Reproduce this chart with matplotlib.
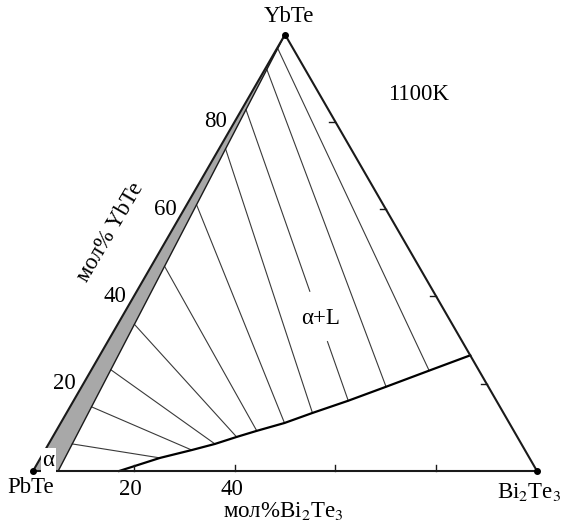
import numpy as np
import matplotlib
matplotlib.use("Agg")
import matplotlib.pyplot as plt

plt.rcParams['font.family'] = ['Liberation Serif', 'DejaVu Serif']
plt.rcParams['mathtext.fontset'] = 'stix'

# ---- data (mole fractions: Bi2Te3, YbTe) ----
vertex_names = ["PbTe", "Bi$_2$Te$_3$", "YbTe"]
tick_values = [20, 40, 60, 80]
bottom_labels = [20, 40]
left_labels = [20, 40, 60, 80]

# alpha solid-solution boundary (inner edge of the grey band)
alpha_bound_bi = [0.05, 0.0]
alpha_bound_yb = [0.0, 1.0]

# liquidus curve
liq_bi = [0.171, 0.237, 0.291, 0.330, 0.365, 0.398, 0.444, 0.488, 0.545, 0.604, 0.671, 0.735]
liq_yb = [0.000, 0.030, 0.048, 0.062, 0.078, 0.092, 0.110, 0.133, 0.161, 0.193, 0.230, 0.265]

# tie lines: start on alpha boundary (YbTe fraction), end on liquidus
tie_start_yb = [0.062, 0.147, 0.232, 0.336, 0.469, 0.610, 0.738, 0.828, 0.920, 0.968]
tie_end_bi = [0.237, 0.291, 0.330, 0.365, 0.398, 0.444, 0.488, 0.545, 0.604, 0.671]
tie_end_yb = [0.030, 0.048, 0.062, 0.078, 0.092, 0.110, 0.133, 0.161, 0.193, 0.230]
label_gap_line = 7
label_gap = (0.624, 0.797)


def tern(bi, yb):
    bi = np.asarray(bi, float)
    yb = np.asarray(yb, float)
    return bi + yb / 2.0, yb * np.sqrt(3) / 2.0


fig = plt.figure(figsize=(5.61, 5.25), dpi=100)
ax = fig.add_axes([0, 0, 1, 1])
ax.set_xlim(-33 / 504, 528 / 504)
ax.set_ylim(-54 / 504, 471 / 504)
ax.axis('off')

edge_col = '#1a1a1a'
fs = 16.5

# grey alpha band
def alpha_bi(yb):
    return np.interp(yb, alpha_bound_yb, alpha_bound_bi)

yy = np.linspace(0, 1, 50)
bx_in, by_in = tern(alpha_bi(yy), yy)
bx_out, by_out = tern(np.zeros_like(yy), yy)
ax.fill(np.concatenate([bx_out, bx_in[::-1]]), np.concatenate([by_out, by_in[::-1]]),
        color='#a8a8a8', zorder=1, lw=0)
ax.plot(bx_in, by_in, color=edge_col, lw=1.0, zorder=3)

# triangle
tx, ty = tern([0, 1, 0, 0], [0, 0, 1, 0])
ax.plot(tx, ty, color=edge_col, lw=1.5, zorder=4, solid_joinstyle='miter')
vx, vy = tern([0, 1, 0], [0, 0, 1])
ax.plot(vx, vy, 'o', color='black', ms=4, zorder=5)

# ticks
for t in tick_values:
    f = t / 100
    x0, y0 = tern(f, 0)
    ax.plot([x0, x0], [y0, y0 + 0.011], color=edge_col, lw=1.0, zorder=4)
    x1, y1 = tern(1 - f, f)
    ax.plot([x1, x1 - 0.012], [y1, y1], color=edge_col, lw=1.0, zorder=4)
for t in bottom_labels:
    x0, y0 = tern(t / 100, 0)
    ax.text(float(x0) - 0.006, float(y0) - 0.036, str(t), ha='center', va='center', fontsize=fs)
for t in left_labels:
    x2, y2 = tern(0, t / 100)
    ax.text(float(x2) - 0.038, float(y2), str(t), ha='center', va='center', fontsize=fs)

# liquidus
lx, ly = tern(liq_bi, liq_yb)
ax.plot(lx, ly, color='black', lw=1.6, zorder=3)

# tie lines
for i, (s, eb, ey) in enumerate(zip(tie_start_yb, tie_end_bi, tie_end_yb)):
    sx, sy = tern(alpha_bi(s), s)
    ex, ey2 = tern(eb, ey)
    if i == label_gap_line:
        for a, b in [(0, label_gap[0]), (label_gap[1], 1)]:
            ax.plot([sx + a * (ex - sx), sx + b * (ex - sx)],
                    [sy + a * (ey2 - sy), sy + b * (ey2 - sy)],
                    color='#3a3a3a', lw=0.8, zorder=2)
    else:
        ax.plot([sx, ex], [sy, ey2], color='#3a3a3a', lw=0.8, zorder=2)

# texts
ax.text(-0.004, -0.032, vertex_names[0], ha='center', va='center', fontsize=fs)
ax.text(0.984, -0.042, vertex_names[1], ha='center', va='center', fontsize=fs)
ax.text(0.508, 0.901, vertex_names[2], ha='center', va='center', fontsize=fs)
ax.text(0.496, -0.080, "мол%Bi$_2$Te$_3$", ha='center', va='center', fontsize=fs)
ax.text(0.153, 0.474, "мол% YbTe", ha='center', va='center', fontsize=fs, rotation=59.5)
ax.text(0.764, 0.748, "1100K", ha='center', va='center', fontsize=fs)
ax.text(0.571, 0.302, "α+L", ha='center', va='center', fontsize=fs)
ax.text(0.030, 0.021, "α", ha='center', va='center', fontsize=fs, zorder=6,
        bbox=dict(facecolor='white', edgecolor='none', pad=1.2))

fig.savefig("out.png", dpi=100)
